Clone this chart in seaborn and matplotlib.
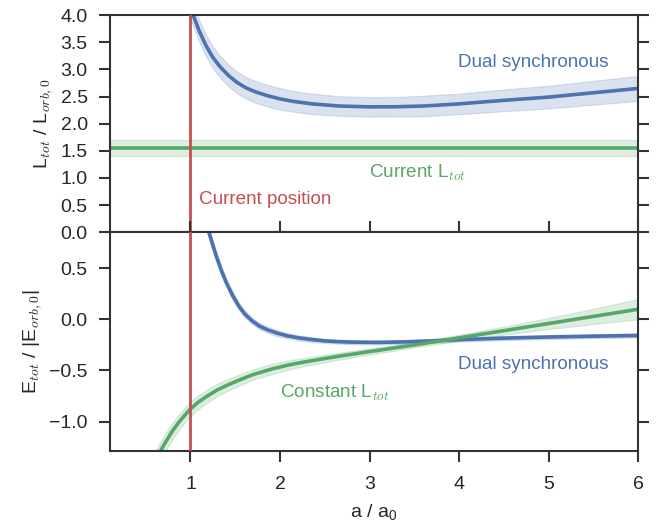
import numpy as np
import pandas as pd
import matplotlib
matplotlib.use("Agg")
import matplotlib.pyplot as plt
import seaborn as sns

# values
top_dual_x = [0.98, 1.03, 1.1, 1.17, 1.25, 1.33, 1.43, 1.52, 1.62, 1.72, 1.85, 1.99,
              2.15, 2.36, 2.66, 3.0, 3.3, 3.6, 4.0, 4.5, 5.0, 5.5, 6.0]
top_dual_y = [4.23, 4.0, 3.7, 3.45, 3.22, 3.05, 2.88, 2.76, 2.66, 2.59, 2.52, 2.46,
              2.41, 2.365, 2.325, 2.31, 2.312, 2.325, 2.365, 2.43, 2.49, 2.57, 2.65]
top_dual_err = [0.2, 0.2, 0.2, 0.2, 0.2, 0.2, 0.2, 0.2, 0.2, 0.2, 0.2, 0.2,
                0.19, 0.19, 0.18, 0.18, 0.18, 0.19, 0.19, 0.2, 0.21, 0.22, 0.23]

cur_L_x = [0.1, 6.0]
cur_L_y = [1.55, 1.55]
cur_L_err = [0.15, 0.15]

bot_dual_x = [1.19, 1.21, 1.25, 1.29, 1.34, 1.40, 1.47, 1.54, 1.61, 1.69, 1.77, 1.87,
              1.97, 2.08, 2.2, 2.36, 2.5, 2.66, 2.85, 3.1, 3.4, 3.7, 4.0, 4.5, 5.0,
              5.5, 6.0]
bot_dual_y = [0.9, 0.84, 0.725, 0.615, 0.49, 0.36, 0.235, 0.13, 0.05, -0.015, -0.065, -0.105,
              -0.135, -0.16, -0.18, -0.198, -0.21, -0.218, -0.223, -0.225, -0.22, -0.21,
              -0.198, -0.183, -0.172, -0.164, -0.157]
bot_dual_err = [0.05, 0.05, 0.05, 0.045, 0.045, 0.04, 0.04, 0.035, 0.035, 0.03, 0.03, 0.03,
                0.03, 0.025, 0.025, 0.025, 0.02, 0.02, 0.02, 0.02, 0.02, 0.02, 0.02, 0.02,
                0.02, 0.02, 0.02]

const_L_x = [0.62, 0.67, 0.73, 0.80, 0.88, 0.99, 1.08, 1.17, 1.3, 1.42, 1.54, 1.7, 1.91,
             2.1, 2.28, 2.62, 3.0, 3.5, 4.0, 4.5, 5.0, 5.5, 6.0]
const_L_y = [-1.36, -1.28, -1.19, -1.09, -0.995, -0.885, -0.815, -0.76, -0.69, -0.64,
             -0.595, -0.54, -0.485, -0.445, -0.415, -0.365, -0.315, -0.25, -0.18, -0.11,
             -0.04, 0.03, 0.10]
const_L_err = [0.09, 0.09, 0.085, 0.08, 0.075, 0.07, 0.07, 0.065, 0.06, 0.058, 0.055, 0.05,
               0.05, 0.045, 0.04, 0.035, 0.03, 0.025, 0.03, 0.04, 0.055, 0.075, 0.1]

current_a = 1.0

sns.set_theme(style="ticks", palette="deep")
plt.rcParams['font.family'] = ['Liberation Sans', 'DejaVu Sans']
plt.rcParams['mathtext.fontset'] = 'cm'
plt.rcParams['axes.edgecolor'] = '#333333'
plt.rcParams['axes.linewidth'] = 1.5
plt.rcParams['xtick.color'] = '#333333'
plt.rcParams['ytick.color'] = '#333333'
plt.rcParams['xtick.labelcolor'] = '#262626'
plt.rcParams['ytick.labelcolor'] = '#262626'

pal = sns.color_palette("deep")
blue, green, red = pal[0], pal[2], pal[3]
FS_TICK = 14
FS_LAB = 14
FS_NOTE = 13.6

fig = plt.figure(figsize=(6.58, 5.24), dpi=100)
ax1 = fig.add_axes([0.167, 0.557, 0.803, 0.414])
ax2 = fig.add_axes([0.167, 0.139, 0.803, 0.418], sharex=ax1)


def band(ax, x, y, err, color):
    df = pd.DataFrame({'x': x, 'y': y, 'err': err})
    ax.fill_between(df['x'], df['y'] - df['err'], df['y'] + df['err'],
                    color=color, alpha=0.2, lw=0.8)
    sns.lineplot(data=df, x='x', y='y', ax=ax, color=color, lw=2.6, estimator=None, sort=False)


# top panel: total angular momentum
band(ax1, top_dual_x, top_dual_y, top_dual_err, blue)
band(ax1, cur_L_x, cur_L_y, cur_L_err, green)
ax1.axvline(current_a, color=red, lw=2, zorder=5)
ax1.text(4.83, 3.12, "Dual synchronous", color=blue, fontsize=FS_NOTE, ha='center', va='center')
ax1.text(3.53, 1.1, r"Current L$_{tot}$", color=green, fontsize=FS_NOTE, ha='center', va='center')
ax1.text(1.1, 0.6, "Current position", color=red, fontsize=FS_NOTE, ha='left', va='center')
ax1.set_ylim(0, 4.0)
ax1.set_yticks(np.arange(0, 4.01, 0.5))
ax1.set_ylabel(r"L$_{tot}$ / L$_{orb,0}$", fontsize=FS_LAB)
ax1.set_xlabel("")
ax1.tick_params(axis='x', bottom=False, labelbottom=False)
ax1.tick_params(axis='y', left=True, right=True, direction='out', length=8, width=1.5,
                labelsize=FS_TICK, pad=8)

# bottom panel: total energy
band(ax2, bot_dual_x, bot_dual_y, bot_dual_err, blue)
band(ax2, const_L_x, const_L_y, const_L_err, green)
ax2.axvline(current_a, color=red, lw=2, zorder=5)
ax2.text(4.83, -0.44, "Dual synchronous", color=blue, fontsize=FS_NOTE, ha='center', va='center')
ax2.text(2.61, -0.72, r"Constant L$_{tot}$", color=green, fontsize=FS_NOTE, ha='center', va='center')
ax2.set_ylim(-1.29, 0.855)
ax2.set_yticks([-1.0, -0.5, 0.0, 0.5])
ax2.set_xlim(0.1, 6)
ax2.set_xticks([1, 2, 3, 4, 5, 6])
ax2.set_ylabel(r"E$_{tot}$ / |E$_{orb,0}$|", fontsize=FS_LAB)
ax2.set_xlabel(r"a / a$_\mathregular{0}$", fontsize=FS_LAB, labelpad=7)
ax2.tick_params(axis='y', left=True, right=True, direction='out',
                length=8, width=1.5, labelsize=FS_TICK, pad=8)
ax2.tick_params(axis='x', top=True, bottom=True, direction='out',
                length=8, width=1.5, labelsize=FS_TICK, pad=10)

for ax in (ax1, ax2):
    for s in ax.spines.values():
        s.set_visible(True)

fig.savefig("out.png", dpi=100)
